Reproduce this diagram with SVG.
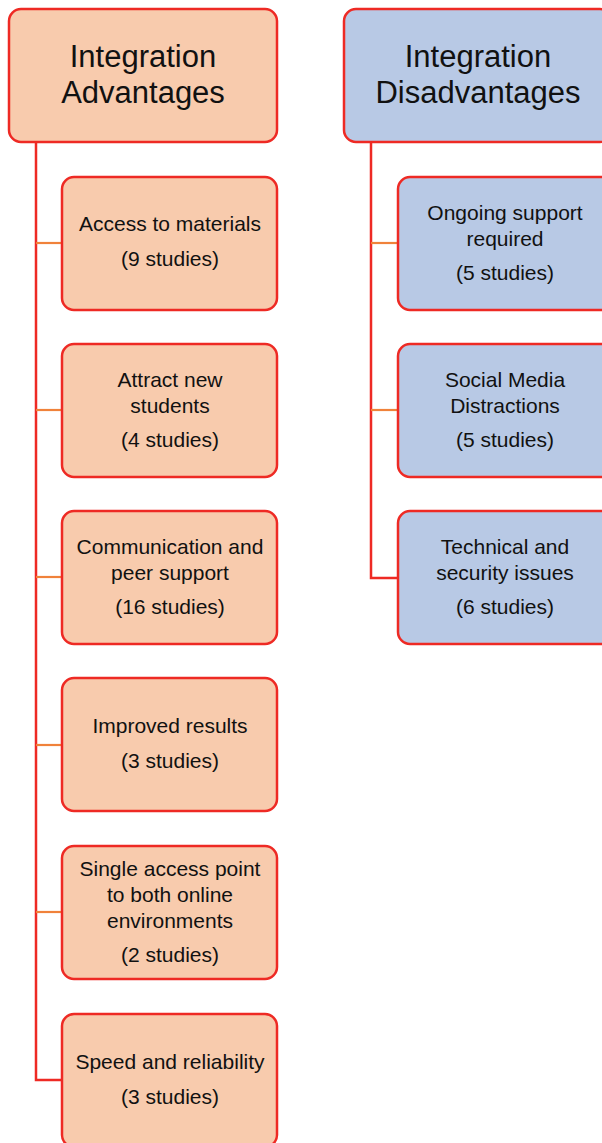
<svg xmlns="http://www.w3.org/2000/svg" width="602" height="1143" viewBox="0 0 602 1143">
<style>
.adv{fill:#F8CBAD;stroke:#EE2A24;stroke-width:2.5}
.dis{fill:#B8C9E5;stroke:#EE2A24;stroke-width:2.5}
.h{font-family:"Liberation Sans",Arial,sans-serif;font-size:31px;fill:#111;text-anchor:middle}
.t{font-family:"Liberation Sans",Arial,sans-serif;font-size:21px;fill:#111;text-anchor:middle}
.main{fill:none;stroke:#EE2A24;stroke-width:2.5}
.tick{fill:none;stroke:#F0823A;stroke-width:2.2}
</style>
<rect width="602" height="1143" fill="#fff"/>
<g id="connectors">
<polyline class="main" points="36,143 36,1080 62,1080"/>
<line class="tick" x1="36" y1="243" x2="62" y2="243"/>
<line class="tick" x1="36" y1="410" x2="62" y2="410"/>
<line class="tick" x1="36" y1="577" x2="62" y2="577"/>
<line class="tick" x1="36" y1="745" x2="62" y2="745"/>
<line class="tick" x1="36" y1="912" x2="62" y2="912"/>
<polyline class="main" points="371,143 371,578 398,578"/>
<line class="tick" x1="371" y1="243" x2="398" y2="243"/>
<line class="tick" x1="371" y1="410" x2="398" y2="410"/>
</g>
<g id="adv-header">
<rect class="adv" x="9" y="9" width="268" height="133" rx="12"/>
<text class="h" x="143" y="67">Integration</text>
<text class="h" x="143" y="103">Advantages</text>
</g>
<g id="dis-header">
<rect class="dis" x="344" y="9" width="268" height="133" rx="12"/>
<text class="h" x="478" y="67">Integration</text>
<text class="h" x="478" y="103">Disadvantages</text>
</g>
<g id="adv1">
<rect class="adv" x="62" y="177" width="215" height="133" rx="12"/>
<text class="t" x="170" y="231">Access to materials</text>
<text class="t" x="170" y="266">(9 studies)</text>
</g>
<g id="adv2">
<rect class="adv" x="62" y="344" width="215" height="133" rx="12"/>
<text class="t" x="170" y="387">Attract new</text>
<text class="t" x="170" y="413">students</text>
<text class="t" x="170" y="447">(4 studies)</text>
</g>
<g id="adv3">
<rect class="adv" x="62" y="511" width="215" height="133" rx="12"/>
<text class="t" x="170" y="554">Communication and</text>
<text class="t" x="170" y="580">peer support</text>
<text class="t" x="170" y="614">(16 studies)</text>
</g>
<g id="adv4">
<rect class="adv" x="62" y="678" width="215" height="133" rx="12"/>
<text class="t" x="170" y="733">Improved results</text>
<text class="t" x="170" y="768">(3 studies)</text>
</g>
<g id="adv5">
<rect class="adv" x="62" y="846" width="215" height="133" rx="12"/>
<text class="t" x="170" y="876">Single access point</text>
<text class="t" x="170" y="902">to both online</text>
<text class="t" x="170" y="928">environments</text>
<text class="t" x="170" y="962">(2 studies)</text>
</g>
<g id="adv6">
<rect class="adv" x="62" y="1014" width="215" height="133" rx="12"/>
<text class="t" x="170" y="1069">Speed and reliability</text>
<text class="t" x="170" y="1104">(3 studies)</text>
</g>
<g id="dis1">
<rect class="dis" x="398" y="177" width="215" height="133" rx="12"/>
<text class="t" x="505" y="220">Ongoing support</text>
<text class="t" x="505" y="246">required</text>
<text class="t" x="505" y="280">(5 studies)</text>
</g>
<g id="dis2">
<rect class="dis" x="398" y="344" width="215" height="133" rx="12"/>
<text class="t" x="505" y="387">Social Media</text>
<text class="t" x="505" y="413">Distractions</text>
<text class="t" x="505" y="447">(5 studies)</text>
</g>
<g id="dis3">
<rect class="dis" x="398" y="511" width="215" height="133" rx="12"/>
<text class="t" x="505" y="554">Technical and</text>
<text class="t" x="505" y="580">security issues</text>
<text class="t" x="505" y="614">(6 studies)</text>
</g>
</svg>
